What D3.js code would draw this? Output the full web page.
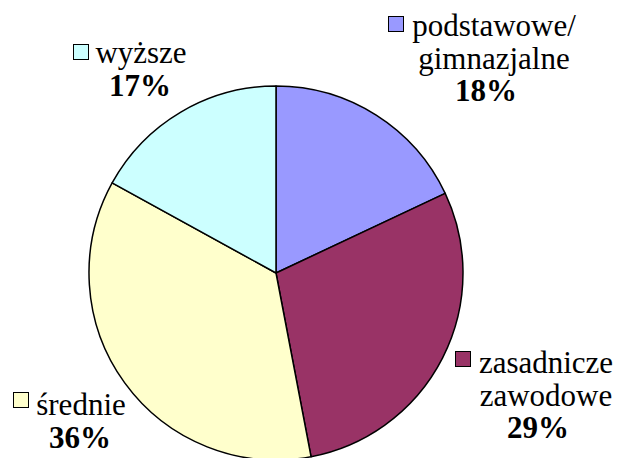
<!DOCTYPE html>
<html>
<head>
<meta charset="utf-8">
<script src="https://cdn.jsdelivr.net/npm/d3@7"></script>
<style>
  html, body { margin: 0; padding: 0; background: #fff; }
  svg { display: block; }
</style>
</head>
<body>
<div id="chart"></div>
<script>
// Education level shares
const categories = ["podstawowe/gimnazjalne", "zasadnicze zawodowe", "średnie", "wyższe"];
const values = [18, 29, 36, 17];
const label_lines = [["podstawowe/", "gimnazjalne"], ["zasadnicze", "zawodowe"], ["średnie"], ["wyższe"]];
const colors = ["#9999FF", "#993366", "#FFFFCC", "#CCFFFF"];

const width = 619;
const height = 458;
const cx = 276;
const cy = 273;
const radius = 187;
const font_size = 31;
const line_height = 32.5;

// label placement: key square top-left, text centre, first baseline, pct centre
const label_pos = [
    {kx: 388, ky: 16, tx: 494, ty: 36, px: 486},
    {kx: 455, ky: 351, tx: 546, ty: 373, px: 538},
    {kx: 13, ky: 392, tx: 81, ty: 415, px: 80},
    {kx: 73, ky: 44, tx: 141, ty: 63, px: 140}
];

const svg = d3.select("#chart")
    .append("svg")
    .attr("width", width)
    .attr("height", height);

const pie = d3.pie()
    .sort(null)
    .value(d => d);

const arc = d3.arc()
    .innerRadius(0)
    .outerRadius(radius);

const slices = svg.append("g")
    .attr("transform", `translate(${cx},${cy})`);

slices.selectAll("path")
    .data(pie(values))
    .enter().append("path")
    .attr("d", arc)
    .attr("fill", (d, i) => colors[i])
    .attr("stroke", "#000")
    .attr("stroke-width", 1.5)
    .attr("stroke-linejoin", "round");

const labels = svg.append("g");

values.forEach(function (v, i) {
    const p = label_pos[i];
    const g = labels.append("g");

    g.append("rect")
        .attr("x", p.kx + 0.5)
        .attr("y", p.ky + 0.5)
        .attr("width", 15)
        .attr("height", 15)
        .attr("fill", colors[i])
        .attr("stroke", "#000")
        .attr("stroke-width", 1);

    label_lines[i].forEach(function (line, j) {
        g.append("text")
            .attr("x", p.tx)
            .attr("y", p.ty + j * line_height)
            .attr("text-anchor", "middle")
            .style("font-family", "Liberation Serif")
            .style("font-size", font_size + "px")
            .text(line);
    });

    g.append("text")
        .attr("x", p.px)
        .attr("y", p.ty + label_lines[i].length * line_height)
        .attr("text-anchor", "middle")
        .style("font-family", "Liberation Serif")
        .style("font-size", font_size + "px")
        .style("font-weight", "bold")
        .text(v + "%");
});
</script>
</body>
</html>
